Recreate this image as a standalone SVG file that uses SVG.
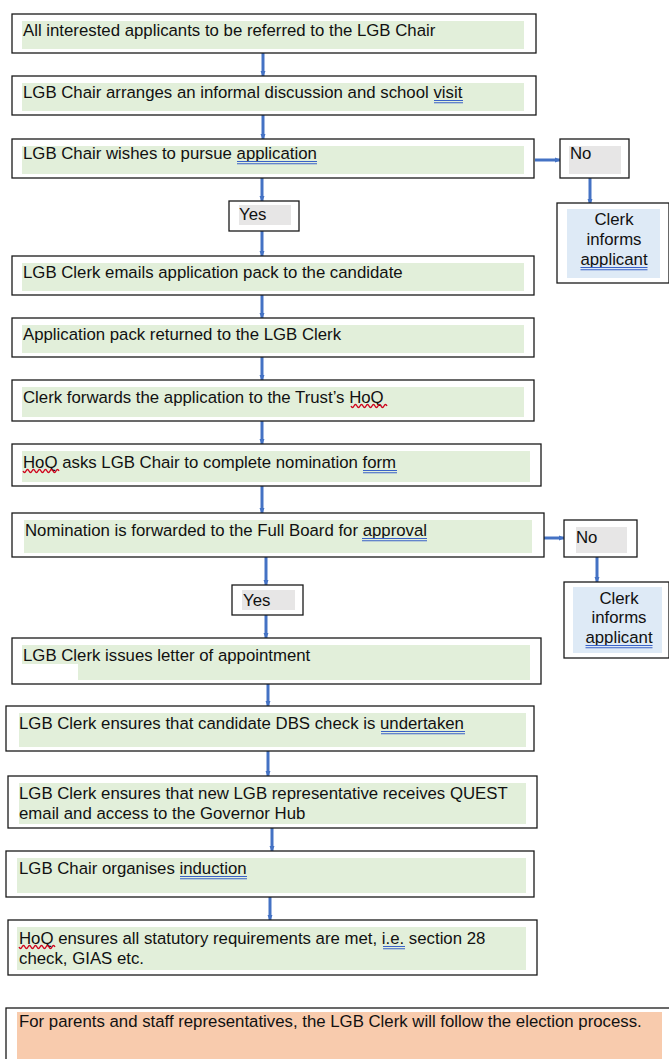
<svg xmlns="http://www.w3.org/2000/svg" width="669" height="1059" viewBox="0 0 669 1059">
<style>
.box{fill:#fff;stroke:#1a1a1a;stroke-width:1.3}
.g{fill:#e2efda}
.gr{fill:#e7e6e6}
.bl{fill:#deeaf6}
.or{fill:#f8cbad}
text{font-family:"Liberation Sans",Arial,sans-serif;font-size:16.8px;fill:#111}
.c{text-anchor:middle}
.u{stroke:#3a62c8;stroke-width:1.1;fill:none}
.w{stroke:#d0021b;stroke-width:1.3;fill:none}
.con{stroke:#4472c4;stroke-width:3;fill:none;marker-end:url(#ah)}
</style>
<defs>
<marker id="ah" markerWidth="6" markerHeight="6" refX="5" refY="3" orient="auto" markerUnits="userSpaceOnUse" viewBox="0 0 6 6">
<path d="M0,0.5 L6,3 L0,5.5 z" fill="#4472c4"/>
</marker>
</defs>
<rect width="669" height="1059" fill="#fff"/>
<g id="connectors">
<line class="con" x1="263" y1="53" x2="263" y2="76"/>
<line class="con" x1="263" y1="115" x2="263" y2="139"/>
<line class="con" x1="262" y1="178" x2="262" y2="201"/>
<line class="con" x1="535" y1="160" x2="560" y2="160"/>
<line class="con" x1="590" y1="178" x2="590" y2="204"/>
<line class="con" x1="262" y1="231" x2="262" y2="256"/>
<line class="con" x1="262" y1="295" x2="262" y2="318"/>
<line class="con" x1="262" y1="357" x2="262" y2="380"/>
<line class="con" x1="262" y1="421" x2="262" y2="444"/>
<line class="con" x1="262" y1="486" x2="262" y2="513"/>
<line class="con" x1="544" y1="538" x2="564" y2="538"/>
<line class="con" x1="597" y1="557" x2="597" y2="582"/>
<line class="con" x1="266" y1="557" x2="266" y2="585"/>
<line class="con" x1="266" y1="615" x2="266" y2="638"/>
<line class="con" x1="268" y1="684" x2="268" y2="706"/>
<line class="con" x1="268" y1="751" x2="268" y2="776"/>
<line class="con" x1="272" y1="828" x2="272" y2="851"/>
<line class="con" x1="270" y1="897" x2="270" y2="920"/>
</g>
<g id="n1"><rect class="box" x="12" y="14" width="524" height="39"/><rect class="g" x="22" y="21" width="502" height="28"/><text x="23" y="36">All interested applicants to be referred to the LGB Chair</text></g>
<g id="n2"><rect class="box" x="12" y="76" width="524" height="39"/><rect class="g" x="22" y="83" width="502" height="28"/><text x="23" y="98">LGB Chair arranges an informal discussion and school visit</text><path class="u" d="M434,100.5 H463 M434,102.8 H463"/></g>
<g id="n3"><rect class="box" x="12" y="139" width="522" height="39"/><rect class="g" x="22" y="146" width="502" height="28"/><text x="23" y="159">LGB Chair wishes to pursue application</text><path class="u" d="M237,161.5 H317 M237,163.8 H317"/></g>
<g id="no1"><rect class="box" x="560" y="139" width="69" height="39"/><rect class="gr" x="569" y="146" width="52" height="28"/><text x="570" y="159">No</text></g>
<g id="ci1"><rect class="box" x="557" y="203" width="112" height="80"/><rect class="bl" x="567" y="209" width="93" height="69"/><text class="c" x="614" y="225">Clerk</text><text class="c" x="614" y="245">informs</text><text class="c" x="614" y="265">applicant</text><path class="u" d="M580.5,267.5 H647.5 M580.5,269.8 H647.5"/></g>
<g id="yes1"><rect class="box" x="229" y="201" width="70" height="30"/><rect class="gr" x="239" y="205" width="52" height="20"/><text x="239" y="220">Yes</text></g>
<g id="n4"><rect class="box" x="12" y="256" width="522" height="39"/><rect class="g" x="22" y="263" width="502" height="28"/><text x="23" y="278">LGB Clerk emails application pack to the candidate</text></g>
<g id="n5"><rect class="box" x="12" y="318" width="522" height="39"/><rect class="g" x="22" y="325" width="502" height="28"/><text x="23" y="340">Application pack returned to the LGB Clerk</text></g>
<g id="n6"><rect class="box" x="12" y="380" width="522" height="41"/><rect class="g" x="22" y="387" width="502" height="30"/><text x="23" y="403">Clerk forwards the application to the Trust’s HoQ</text><path class="w" d="M351,406 q1.5,3 3,0 t3,0 t3,0 t3,0 t3,0 t3,0 t3,0 t3,0 t3,0 t3,0 t3,0 t3,0"/></g>
<g id="n7"><rect class="box" x="12" y="444" width="529" height="42"/><rect class="g" x="22" y="451" width="508" height="31"/><text x="23" y="468">HoQ asks LGB Chair to complete nomination form</text><path class="w" d="M23,471 q1.5,3 3,0 t3,0 t3,0 t3,0 t3,0 t3,0 t3,0 t3,0 t3,0 t3,0 t3,0 t3,0"/><path class="u" d="M363,470.5 H397 M363,472.8 H397"/></g>
<g id="n8"><rect class="box" x="12" y="513" width="532" height="44"/><rect class="g" x="24" y="520" width="508" height="33"/><text x="25" y="536">Nomination is forwarded to the Full Board for approval</text><path class="u" d="M362,538.5 H427 M362,540.8 H427"/></g>
<g id="no2"><rect class="box" x="564" y="520" width="73" height="37"/><rect class="gr" x="576" y="527" width="51" height="26"/><text x="576" y="543">No</text></g>
<g id="ci2"><rect class="box" x="564" y="582" width="105" height="76"/><rect class="bl" x="573" y="587" width="89" height="66"/><text class="c" x="619" y="604">Clerk</text><text class="c" x="619" y="623">informs</text><text class="c" x="619" y="643">applicant</text><path class="u" d="M585.5,645.5 H652.5 M585.5,647.8 H652.5"/></g>
<g id="yes2"><rect class="box" x="232" y="585" width="71" height="30"/><rect class="gr" x="242" y="590" width="53" height="20"/><text x="243" y="606">Yes</text></g>
<g id="n9"><rect class="box" x="12" y="638" width="529" height="46"/><path class="g" d="M22,645 H530 V680 H78 V664 H22 Z"/><text x="23" y="661">LGB Clerk issues letter of appointment</text></g>
<g id="n10"><rect class="box" x="6" y="706" width="528" height="45"/><rect class="g" x="19" y="713" width="507" height="34"/><text x="19" y="729">LGB Clerk ensures that candidate DBS check is undertaken</text><path class="u" d="M381,731.5 H465 M381,733.8 H465"/></g>
<g id="n11"><rect class="box" x="8" y="776" width="529" height="52"/><rect class="g" x="19" y="783" width="507" height="41"/><text x="19" y="799">LGB Clerk ensures that new LGB representative receives QUEST</text><text x="19" y="819">email and access to the Governor Hub</text></g>
<g id="n12"><rect class="box" x="6" y="851" width="528" height="46"/><rect class="g" x="17" y="858" width="509" height="35"/><text x="19" y="874">LGB Chair organises induction</text><path class="u" d="M180,876.5 H247 M180,878.8 H247"/></g>
<g id="n13"><rect class="box" x="8" y="920" width="529" height="55"/><rect class="g" x="17" y="927" width="509" height="43"/><text x="19" y="944">HoQ ensures all statutory requirements are met, i.e. section 28</text><text x="19" y="964">check, GIAS etc.</text><path class="w" d="M19,947 q1.5,3 3,0 t3,0 t3,0 t3,0 t3,0 t3,0 t3,0 t3,0 t3,0 t3,0 t3,0 t3,0"/><path class="u" d="M383,946.5 H405 M383,948.8 H405"/></g>
<g id="n14"><rect class="box" x="6" y="1008" width="670" height="60"/><rect class="or" x="17" y="1012" width="645" height="47"/><text x="19" y="1027">For parents and staff representatives, the LGB Clerk will follow the election process.</text></g>
</svg>
